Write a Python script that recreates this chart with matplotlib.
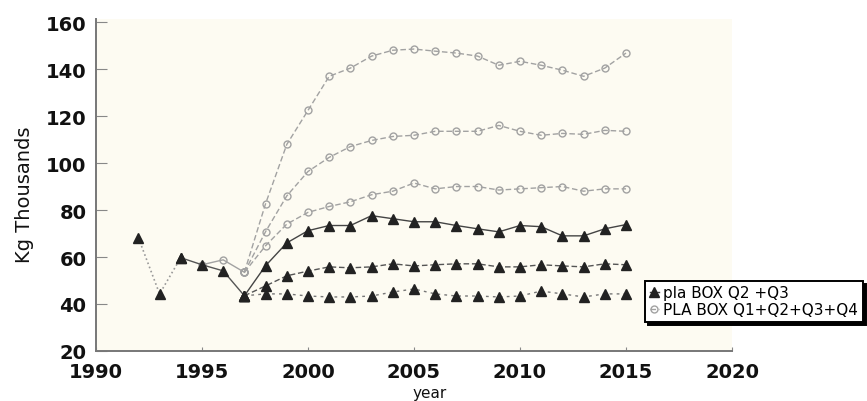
import matplotlib.pyplot as plt

# observed landings
hist_years = [1992, 1993, 1994, 1995, 1996, 1997]
hist_vals = [68.2, 44.3, 59.7, 56.7, 54.1, 43.5]

# Q1-Q4 totals before the projections split
light_years = [1995, 1996, 1997]
light_vals = [56.7, 58.8, 53.5]

years = list(range(1997, 2016))

# PLA BOX Q1+Q2+Q3+Q4 projections
q14_high = [53.5, 82.7, 107.9, 122.4, 136.9, 140.4, 145.5, 148, 148.5, 147.6,
            146.8, 145.5, 141.6, 143.3, 141.6, 139.5, 136.9, 140.4, 146.8]
q14_mid = [53.5, 70.8, 86, 96.4, 102.4, 107, 109.6, 111.3, 111.8, 113.5,
           113.5, 113.5, 116, 113.5, 111.8, 112.6, 112.2, 113.9, 113.5]
q14_low = [53.5, 64.8, 74, 79, 81.5, 83.5, 86.5, 88, 91.5, 89,
           90, 90, 88.5, 89, 89.5, 90, 88, 89, 89]

# pla BOX Q2+Q3 projections
q23_high = [43.5, 56.3, 66, 71.2, 73.4, 73.4, 77.6, 76.3, 75, 75,
            73.4, 72, 70.7, 73.4, 72.9, 69, 69, 72, 73.8]
q23_mid = [43.5, 47.7, 52, 54, 55.8, 55.4, 55.8, 57.1, 56.2, 56.7,
           57.1, 57.1, 55.8, 55.8, 56.7, 56.2, 55.8, 57.1, 56.7]
q23_low = [43.5, 44.3, 44.3, 43.4, 43, 43, 43.4, 45.1, 46.4, 44.3,
           43.4, 43.4, 43, 43.4, 45.5, 44.3, 43, 44.3, 44.3]

fig = plt.figure(figsize=(8.67, 4.02), dpi=100)
ax = fig.add_axes([0.1107, 0.1244, 0.7336, 0.8259])
ax.set_facecolor("#fdfbf2")

grey = "#a2a2a2"
light = dict(color=grey, lw=1, marker="o", ms=5, mfc="none", mec=grey, mew=1)
ax.plot(light_years, light_vals, "-", **light)
l1, = ax.plot(years, q14_high, ls=(0, (4, 2)), label="PLA BOX Q1+Q2+Q3+Q4", **light)
ax.plot(years, q14_mid, ls=(0, (4, 2)), **light)
ax.plot(years, q14_low, ls=(0, (4, 2)), **light)

dark = "#222222"
tri = dict(marker="^", ms=7, mfc=dark, mec=dark)
ax.plot(hist_years[:3], hist_vals[:3], ls=":", color="#999999", lw=1.2, **tri)
ax.plot(hist_years[2:], hist_vals[2:], ls="-", color="#555555", lw=1, **tri)
l2, = ax.plot(years, q23_high, ls="-", color="#444444", lw=1, label="pla BOX Q2 +Q3", **tri)
ax.plot(years, q23_mid, ls=(0, (4, 2)), color="#555555", lw=1, **tri)
ax.plot(years, q23_low, ls=(0, (2, 3)), color="#777777", lw=1, **tri)

ax.set_xlim(1990, 2020)
ax.set_ylim(20, 161.3)
ax.set_xticks(range(1990, 2021, 5))
ax.set_yticks(range(20, 161, 20))
for s in ["top", "right"]:
    ax.spines[s].set_visible(False)
for s in ["left", "bottom"]:
    ax.spines[s].set_color("#777777")
    ax.spines[s].set_linewidth(1.4)
ax.tick_params(axis="y", direction="in", length=8, color="#888888", pad=7)
ax.tick_params(axis="x", direction="in", length=3, color="#888888", pad=8)
for lab in ax.get_xticklabels() + ax.get_yticklabels():
    lab.set_fontsize(14)
    lab.set_fontweight("bold")
    lab.set_color("#111111")

ax.set_ylabel("Kg Thousands", fontsize=14, color="#111111")
ax.yaxis.set_label_coords(-0.098, 0.475)
ax.set_xlabel("year", fontsize=11, color="#111111", va="center")
ax.xaxis.set_label_coords(0.525, -0.125)

leg = ax.legend(handles=[l2, l1], loc="upper left", bbox_to_anchor=(0.744, 0.299),
                bbox_transform=fig.transFigure, fontsize=11, handlelength=0.6,
                handletextpad=0.3, labelspacing=0.12, borderpad=0.3,
                borderaxespad=0, fancybox=False, framealpha=1,
                shadow={"color": "black", "alpha": 1})
leg.get_frame().set_edgecolor("black")
leg.get_frame().set_linewidth(1.4)

fig.savefig("out.png", dpi=100)
